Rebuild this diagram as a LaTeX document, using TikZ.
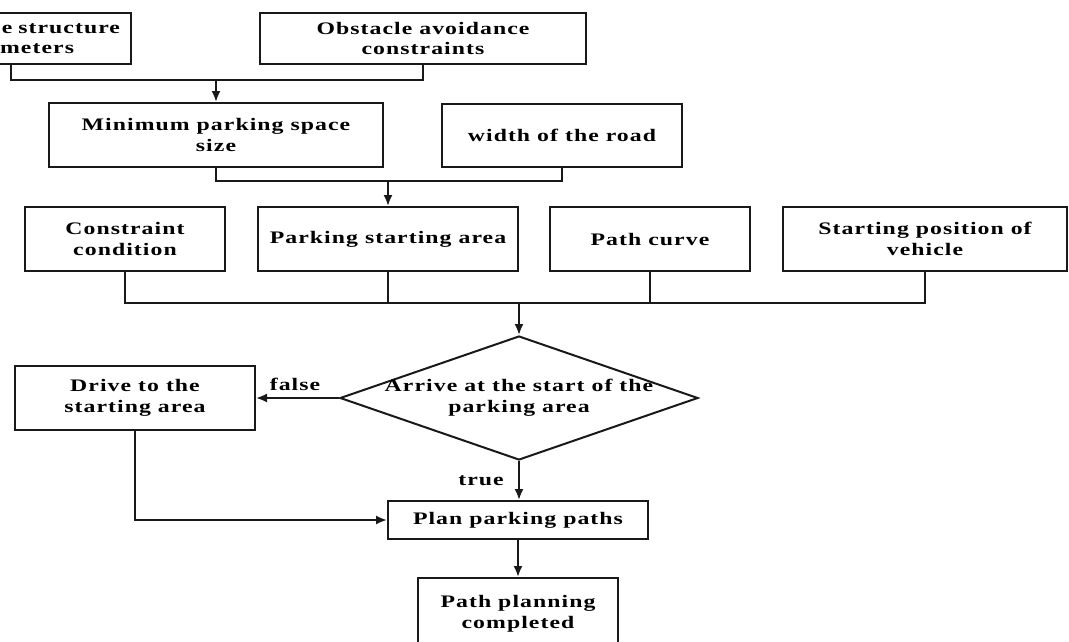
\documentclass[tikz,border=0pt]{standalone}
\usepackage{fontspec}
\setmainfont{Liberation Serif}[FakeStretch=1.35,LetterSpace=6]
\usetikzlibrary{shapes.geometric,arrows.meta,calc}
\begin{document}
\begin{tikzpicture}[x=1pt,y=-1pt,
  txt/.style={font=\fontsize{17.6}{20.5}\selectfont\bfseries},
  box/.style={txt, draw=black!90, line width=2pt, rectangle, align=center, inner sep=0pt},
  conn/.style={line width=2pt, draw=black!90},
  arr/.style={conn, -{Latex[length=11pt,width=9pt]}},
  lab/.style={txt, inner sep=0pt}]
\useasboundingbox (0,0) rectangle (1069,641);
\clip (0,0) rectangle (1069,641);
\fill[white] (0,0) rectangle (1069,641);

\node[box, minimum width=240pt, minimum height=51pt, text width=218pt, align=right] (A) at (11,38.5) {e structure\\meters\rule{46pt}{0pt}};
\node[box, minimum width=326pt, minimum height=51pt] (B) at (423,38.5) {Obstacle avoidance\\constraints};
\node[box, minimum width=334pt, minimum height=64pt] (C) at (216,135) {Minimum parking space\\size};
\node[box, minimum width=240pt, minimum height=63pt] (D) at (562,135.5) {width of the road};
\node[box, minimum width=200pt, minimum height=64pt] (E) at (125,239) {Constraint\\condition};
\node[box, minimum width=260pt, minimum height=64pt] (F) at (388,239) {Parking starting area};
\node[box, minimum width=200pt, minimum height=64pt] (G) at (650,239) {Path curve};
\node[box, minimum width=284pt, minimum height=64pt] (H) at (925,239) {Starting position of\\vehicle};
\node[txt, diamond, draw=black!90, line width=2pt, minimum width=358pt, minimum height=124pt, inner sep=0pt, aspect=2.9] (K) at (519,398)
  {\makebox[0pt]{\begin{tabular}{@{}c@{}}Arrive at the start of the\\parking area\end{tabular}}};
\node[box, minimum width=240pt, minimum height=64pt] (I) at (135,398) {Drive to the\\starting area};
\node[box, minimum width=260pt, minimum height=38pt] (J) at (518,520) {Plan parking paths};
\node[box, minimum width=200pt, minimum height=72pt] (L) at (518,614) {Path planning\\completed};

\coordinate (m1) at (216,80);
\coordinate (m2) at (388,181);
\coordinate (m3) at (519,303);

\draw[conn] (A.south) |- (m1) -| (B.south);
\draw[arr] (m1) -- (m1 |- C.north);
\draw[conn] (C.south) |- (m2) -| (D.south);
\draw[arr] (m2) -- (m2 |- F.north);
\draw[conn] (E.south) |- (m3) -| (H.south);
\draw[conn] (F.south) -- (F.south |- m3);
\draw[conn] (G.south) -- (G.south |- m3);
\draw[arr] (m3) -- (K.north);
\draw[arr] (K.west) -- (I.east);
\node[lab] (fl) at (295,384) {false};
\draw[arr] (K.south) -- (K.south |- J.north);
\node[lab] (tl) at (481,481) {true};
\draw[arr] (I.south) |- (J.west);
\draw[arr] (J.south) -- (J.south |- L.north);
\end{tikzpicture}
\end{document}
